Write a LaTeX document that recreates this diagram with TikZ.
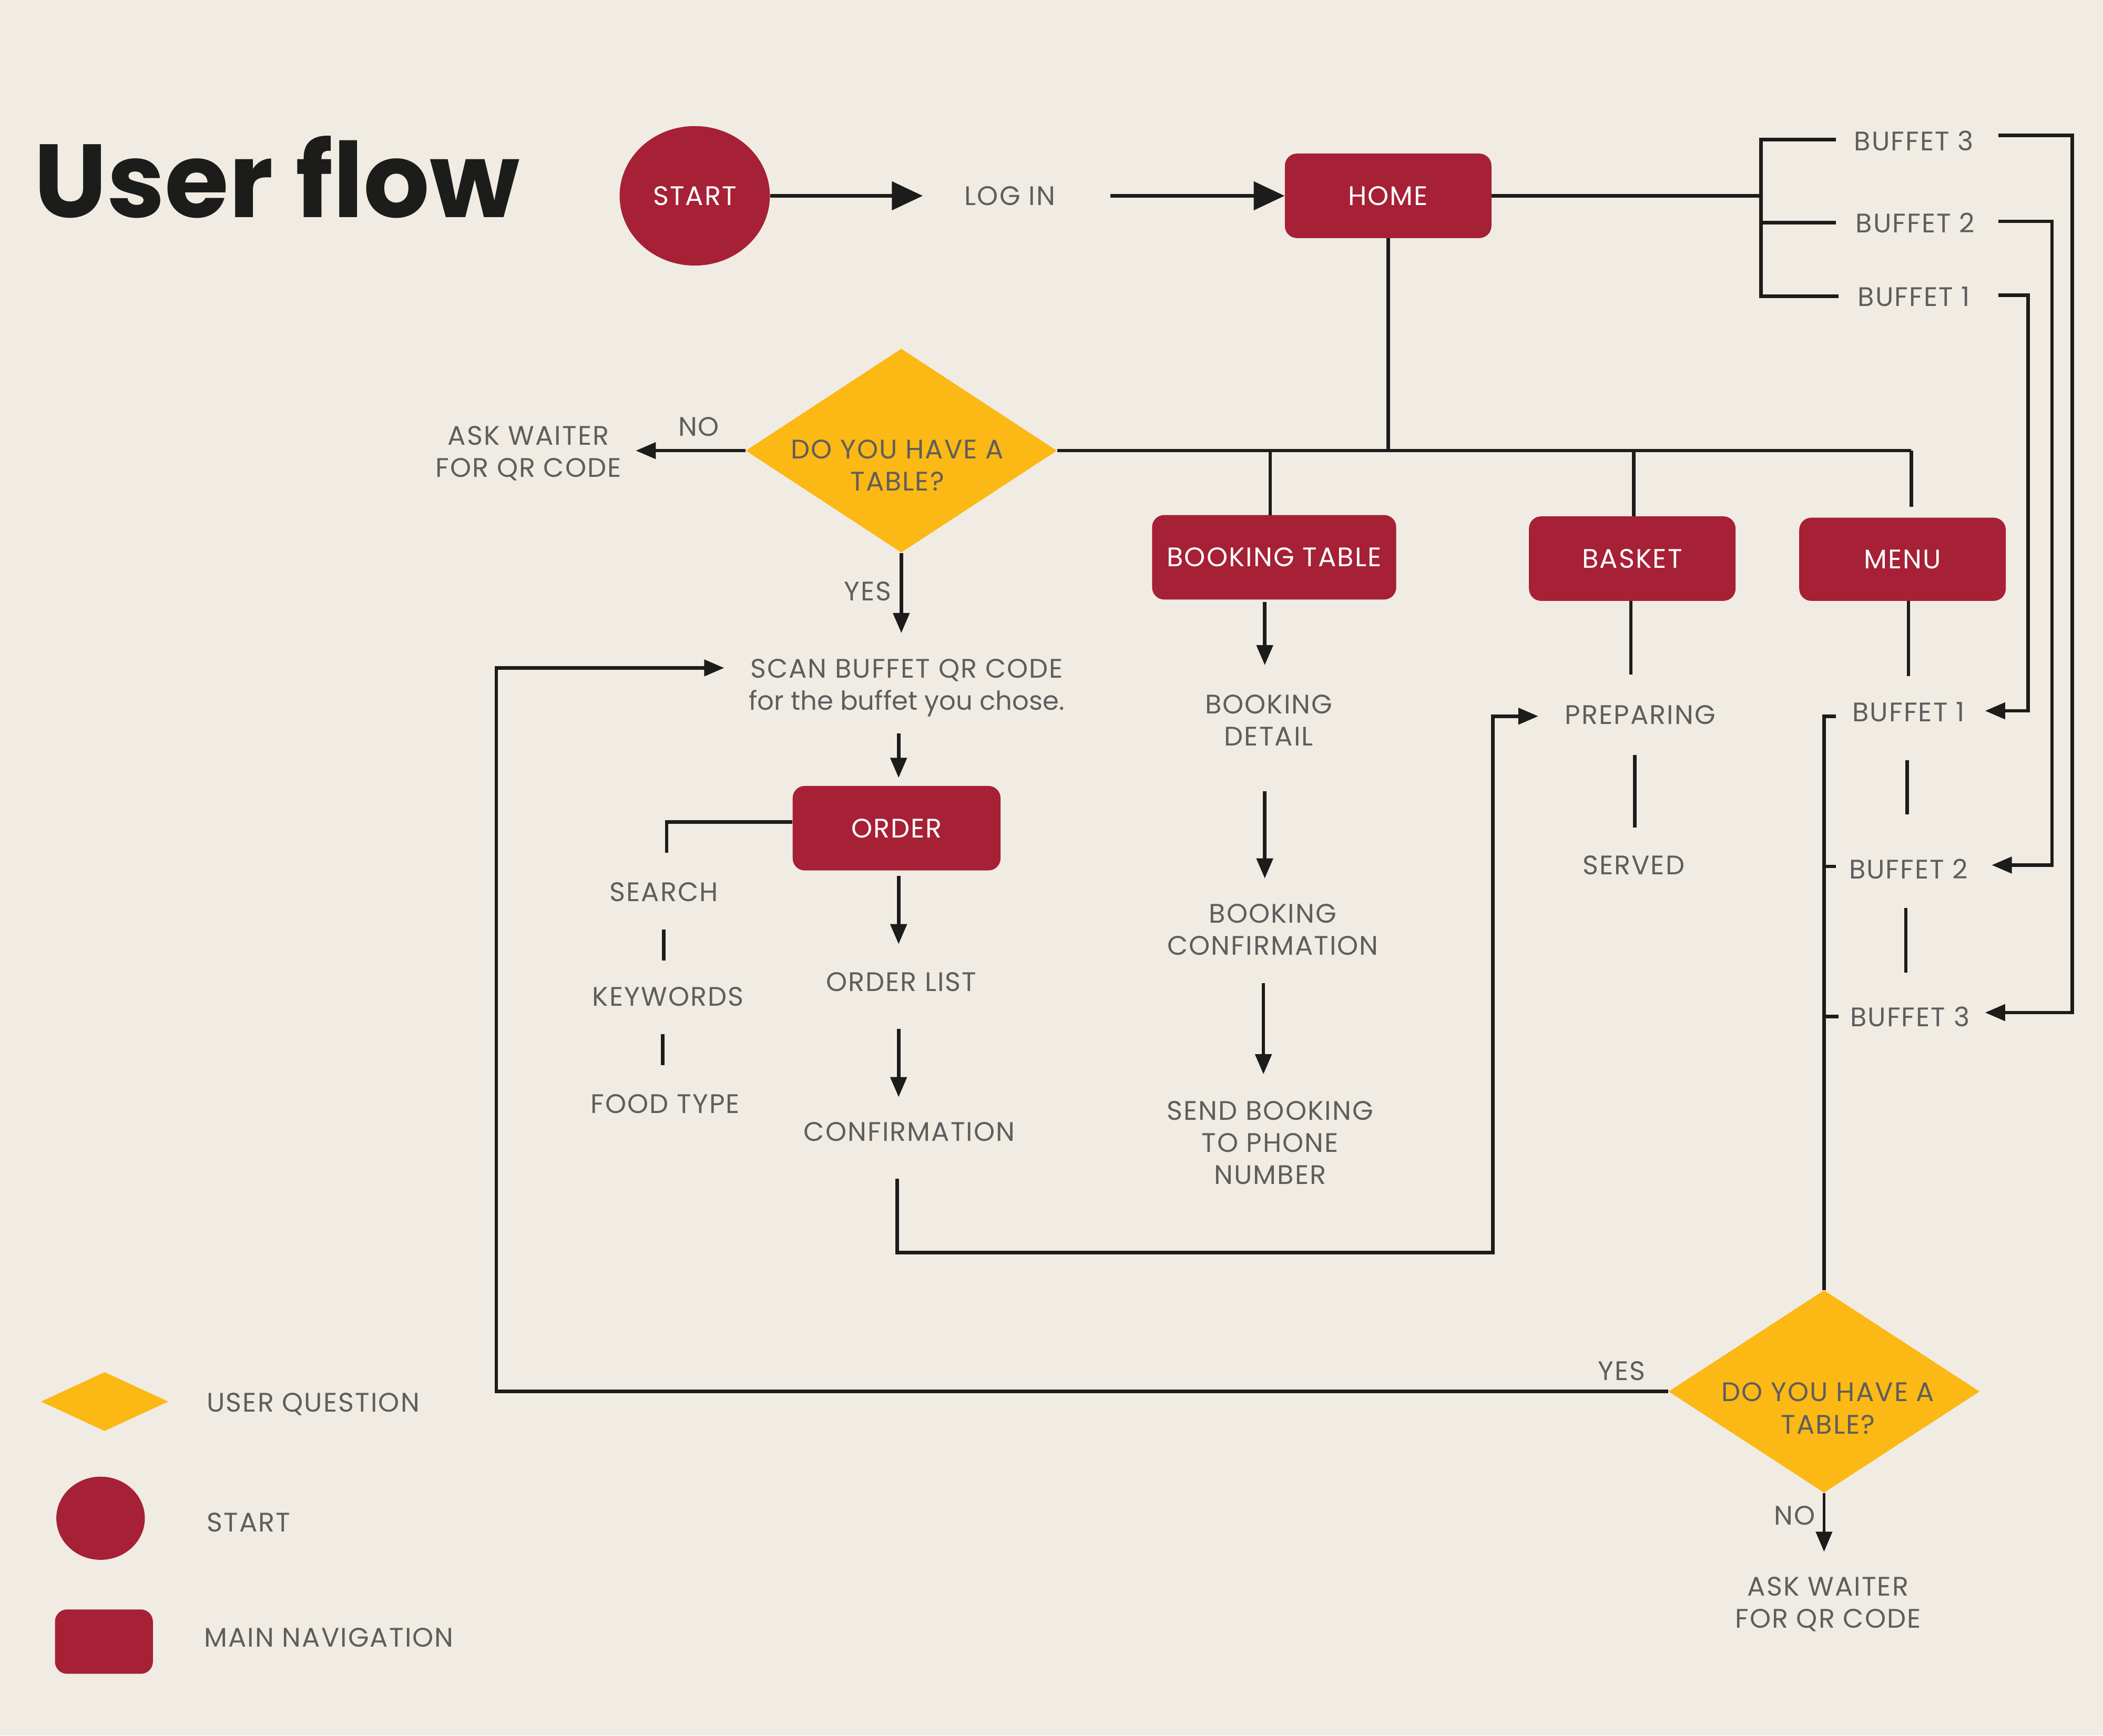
\documentclass[tikz,border=0pt]{standalone}
\usepackage{fontspec}
\setmainfont{Poppins}[LetterSpace=4]
\newfontfamily\titlefont{Poppins}
\newfontfamily\lowerfont{Poppins}
\usetikzlibrary{arrows.meta,shapes.geometric,calc}
\definecolor{bg}{HTML}{F0ECE4}
\definecolor{crim}{HTML}{A62036}
\definecolor{gold}{HTML}{FCB814}
\definecolor{ink}{HTML}{1C1C1A}
\definecolor{txtgray}{HTML}{5E5E5E}
\begin{document}
\begin{tikzpicture}[x=1pt,y=-1pt,
  ln/.style={draw=ink, line width=2.6pt},
  arr/.style={ln, -{Triangle[length=15pt,width=12pt]}},
  bigarr/.style={ln, -{Triangle[length=23pt,width=21pt]}},
  txt/.style={text=txtgray, font=\fontsize{20}{24}\selectfont, align=center, inner sep=0pt},
  navbox/.style={fill=crim, rounded corners=9pt, minimum width=154pt, minimum height=63pt, inner sep=0pt, text=white, font=\fontsize{20}{24}\selectfont},
  qdiam/.style={diamond, fill=gold, minimum width=232pt, minimum height=152pt, inner sep=0pt},
  startel/.style={ellipse, fill=crim, minimum width=112pt, minimum height=104pt, inner sep=0pt, text=white, font=\fontsize{20}{24}\selectfont}
]
\path[fill=bg] (0,0) rectangle (1568,1294);
\useasboundingbox (0,0) rectangle (1568,1294);

% title
\node[anchor=base west, inner sep=0pt, text=ink, font=\titlefont\fontsize{77.5}{90}\selectfont\bfseries] (title) at (25,162) {User flow};

% top row
\node[startel] (start) at (518,146) {START};
\node[txt] (login) at (753,146) {LOG IN};
\node[navbox] (home) at (1035,146) {HOME};
\draw[bigarr] (start.east) -- ([xshift=-65pt]login.center);
\draw[bigarr] ([xshift=75pt]login.center) -- (home.west);

% buffet bracket (top right)
\node[txt] (bt3) at (1427,105) {BUFFET 3};
\node[txt] (bt2) at (1428,166) {BUFFET 2};
\node[txt] (bt1) at (1427,221) {BUFFET 1};
\coordinate (bj) at (1313,146);
\draw[ln] (home.east) -- (bj);
\draw[ln] ([xshift=-58pt]bt3.center |- 0,104) -- (1313,104) -- (1313,221) -- ([xshift=-56pt]bt1.center |- 0,221);
\draw[ln] (1313,166) -- ([xshift=-59pt]bt2.center |- 0,166);

% main trunk
\node[qdiam] (q1) at (672,336) {};
\node[txt] (q1t) at (669,347) {DO YOU HAVE A\\TABLE?};
\coordinate (tj) at (1035,336);
\draw[ln] (home.south) -- (tj);
\draw[ln] (q1.east) -- (1425,336);

\node[navbox, minimum width=182pt] (book) at (950,415.5) {BOOKING TABLE};
\node[navbox] (basket) at (1217,416.5) {BASKET};
\node[navbox, minimum height=62pt] (menu) at (1418.5,417) {MENU};
\draw[ln] (947,336) -- (947,384);
\draw[ln] (1218,336) -- (1218,385);
\draw[ln] (1425,336) -- (1425,378);

% left question
\node[txt] (ask1) at (394,338) {ASK WAITER\\FOR QR CODE};
\node[txt] (no1) at (521,318) {NO};
\draw[arr] (q1.west) -- (474,336);
\node[txt] (yes1) at (647,441) {YES};
\draw[arr] (q1.south) -- (672,472);

% scan / order column
\node[txt] (scan) at (676,513) {SCAN BUFFET QR CODE\\{\lowerfont\fontsize{19.5}{24}\selectfont for the buffet you chose.}};
\node[navbox, minimum width=155pt] (order) at (668.5,617.5) {ORDER};
\draw[arr] (670,547) -- (670,580);
\node[txt] (search) at (495,665) {SEARCH};
\node[txt] (kw) at (498,743) {KEYWORDS};
\node[txt] (food) at (496,823) {FOOD TYPE};
\draw[ln] (order.west |- 0,613) -- (497,613) -- (497,636);
\draw[ln] (495,693) -- (495,716);
\draw[ln] (494,771) -- (494,794);
\node[txt] (olist) at (672,732) {ORDER LIST};
\node[txt] (oconf) at (678,844) {CONFIRMATION};
\draw[arr] (670,653) -- (670,704);
\draw[arr] (670,767) -- (670,818);

% booking column
\node[txt] (bdet) at (946,537) {BOOKING\\DETAIL};
\node[txt] (bconf) at (949,693) {BOOKING\\CONFIRMATION};
\node[txt] (bsend) at (947,852) {SEND BOOKING\\TO PHONE\\NUMBER};
\draw[arr] (943,449) -- (943,496);
\draw[arr] (943,590) -- (943,655);
\draw[arr] (942,733) -- (942,801);

% basket column
\node[txt] (prep) at (1223,533) {PREPARING};
\node[txt] (served) at (1218,645) {SERVED};
\draw[ln] (1216,448) -- (1216,503);
\draw[ln] (1219,563) -- (1219,617);
\draw[arr] (669,879) -- (669,934) -- (1113,934) -- (1113,534) -- (1147,534);

% menu column
\node[txt] (mb1) at (1423,531) {BUFFET 1};
\node[txt] (mb2) at (1423,648) {BUFFET 2};
\node[txt] (mb3) at (1424,758) {BUFFET 3};
\draw[ln] (1423,448) -- (1423,504);
\draw[ln] (1422,567) -- (1422,607);
\draw[ln] (1421,677) -- (1421,725);

% return lines from top buffets
\draw[arr] (1490,101) -- (1545,101) -- (1545,755) -- (1480,755);
\draw[arr] (1490,165) -- (1530,165) -- (1530,645) -- (1485,645);
\draw[arr] (1490,220) -- (1512,220) -- (1512,530) -- (1480,530);

% lower question
\node[qdiam, minimum height=151pt] (q2) at (1360,1037.5) {};
\node[txt] (q2t) at (1363,1050) {DO YOU HAVE A\\TABLE?};
\draw[ln] (1369,534) -- (1360,534) -- (q2.north);
\draw[ln] (1360,646) -- (1369,646);
\draw[ln] (1360,758) -- (1371,758);
\node[txt] (yes2) at (1209,1022) {YES};
\draw[arr] (q2.west) -- (370,1037.5) -- (370,498) -- (540,498);
\node[txt] (no2) at (1338,1130) {NO};
\draw[arr, line width=2.2pt] (q2.south) -- (1360,1157);
\node[txt] (ask2) at (1363,1196) {ASK WAITER\\FOR QR CODE};

% legend
\node[diamond, fill=gold, minimum width=95pt, minimum height=44pt, inner sep=0pt] (lgq) at (78,1045) {};
\node[txt, anchor=west] (lgqt) at (154,1047) {USER QUESTION};
\node[ellipse, fill=crim, minimum width=66pt, minimum height=62pt, inner sep=0pt] (lgs) at (75,1132) {};
\node[txt, anchor=west] (lgst) at (154,1135) {START};
\node[fill=crim, rounded corners=9pt, minimum width=73pt, minimum height=48pt, inner sep=0pt] (lgn) at (77.5,1224) {};
\node[txt, anchor=west] (lgnt) at (152,1221) {MAIN NAVIGATION};
\end{tikzpicture}
\end{document}
